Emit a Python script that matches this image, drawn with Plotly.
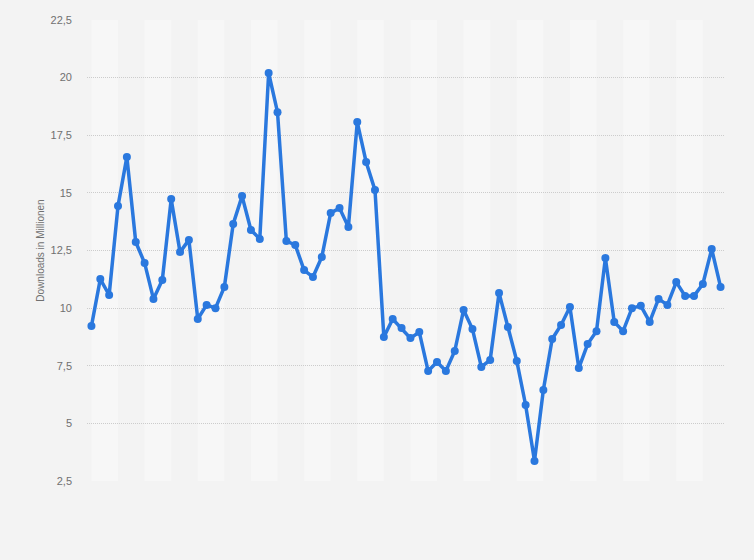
import plotly.graph_objects as go

downloads = [9.22, 11.26, 10.57, 14.43, 16.56, 12.87, 11.96, 10.4, 11.22, 14.73,
             12.43, 12.96, 9.53, 10.14, 10.0, 10.92, 13.65, 14.86, 13.39, 13.0,
             20.2, 18.5, 12.91, 12.74, 11.65, 11.35, 12.22, 14.13, 14.34, 13.52,
             18.07, 16.34, 15.12, 8.75, 9.53, 9.14, 8.7, 8.96, 7.27, 7.66,
             7.27, 8.14, 9.92, 9.09, 7.45, 7.75, 10.66, 9.18, 7.71, 5.8,
             3.37, 6.45, 8.66, 9.27, 10.05, 7.4, 8.44, 9.0, 12.17, 9.4,
             9.0, 10.0, 10.1, 9.4, 10.4, 10.14, 11.13, 10.53, 10.53, 11.05,
             12.56, 10.92]
periods = list(range(len(downloads)))
y_ticks = [2.5, 5, 7.5, 10, 12.5, 15, 17.5, 20, 22.5]
y_title = "Downloads in Millionen"

fig = go.Figure()
fig.add_trace(go.Scatter(
    x=periods, y=downloads, mode="lines+markers",
    line=dict(color="#2a78de", width=3.5),
    marker=dict(color="#2a78de", size=8),
    hoverinfo="y", showlegend=False,
))

shapes = []
for k in range(0, len(periods) // 3, 2):
    shapes.append(dict(type="rect", xref="x", yref="paper",
                       x0=periods[3 * k], x1=periods[3 * k] + 3, y0=0, y1=1,
                       fillcolor="#f7f7f7", line=dict(width=0), layer="below"))

fig.update_layout(
    width=754, height=560,
    margin=dict(l=87, r=29, t=20, b=79),
    paper_bgcolor="#f3f3f3", plot_bgcolor="#f3f3f3",
    separators=",.",
    shapes=shapes,
    font=dict(family="Liberation Sans, Arial, sans-serif", color="#666666"),
    xaxis=dict(range=[-0.5, len(periods) - 0.5], showgrid=False, zeroline=False,
               showticklabels=False, showline=False, fixedrange=True),
    yaxis=dict(range=[2.5, 22.5], tickvals=y_ticks, showgrid=True,
               gridcolor="#cccccc", griddash="1px,1px", gridwidth=1,
               zeroline=False, showline=False,
               tickfont=dict(size=11, color="#707070"),
               ticklabelstandoff=14,
               title=dict(text=y_title, font=dict(size=10, color="#707070"), standoff=4)),
)

fig.write_html("out.html", config={"displayModeBar": False},
               post_script="document.body.style.margin='0';document.body.style.background='#f3f3f3';")
